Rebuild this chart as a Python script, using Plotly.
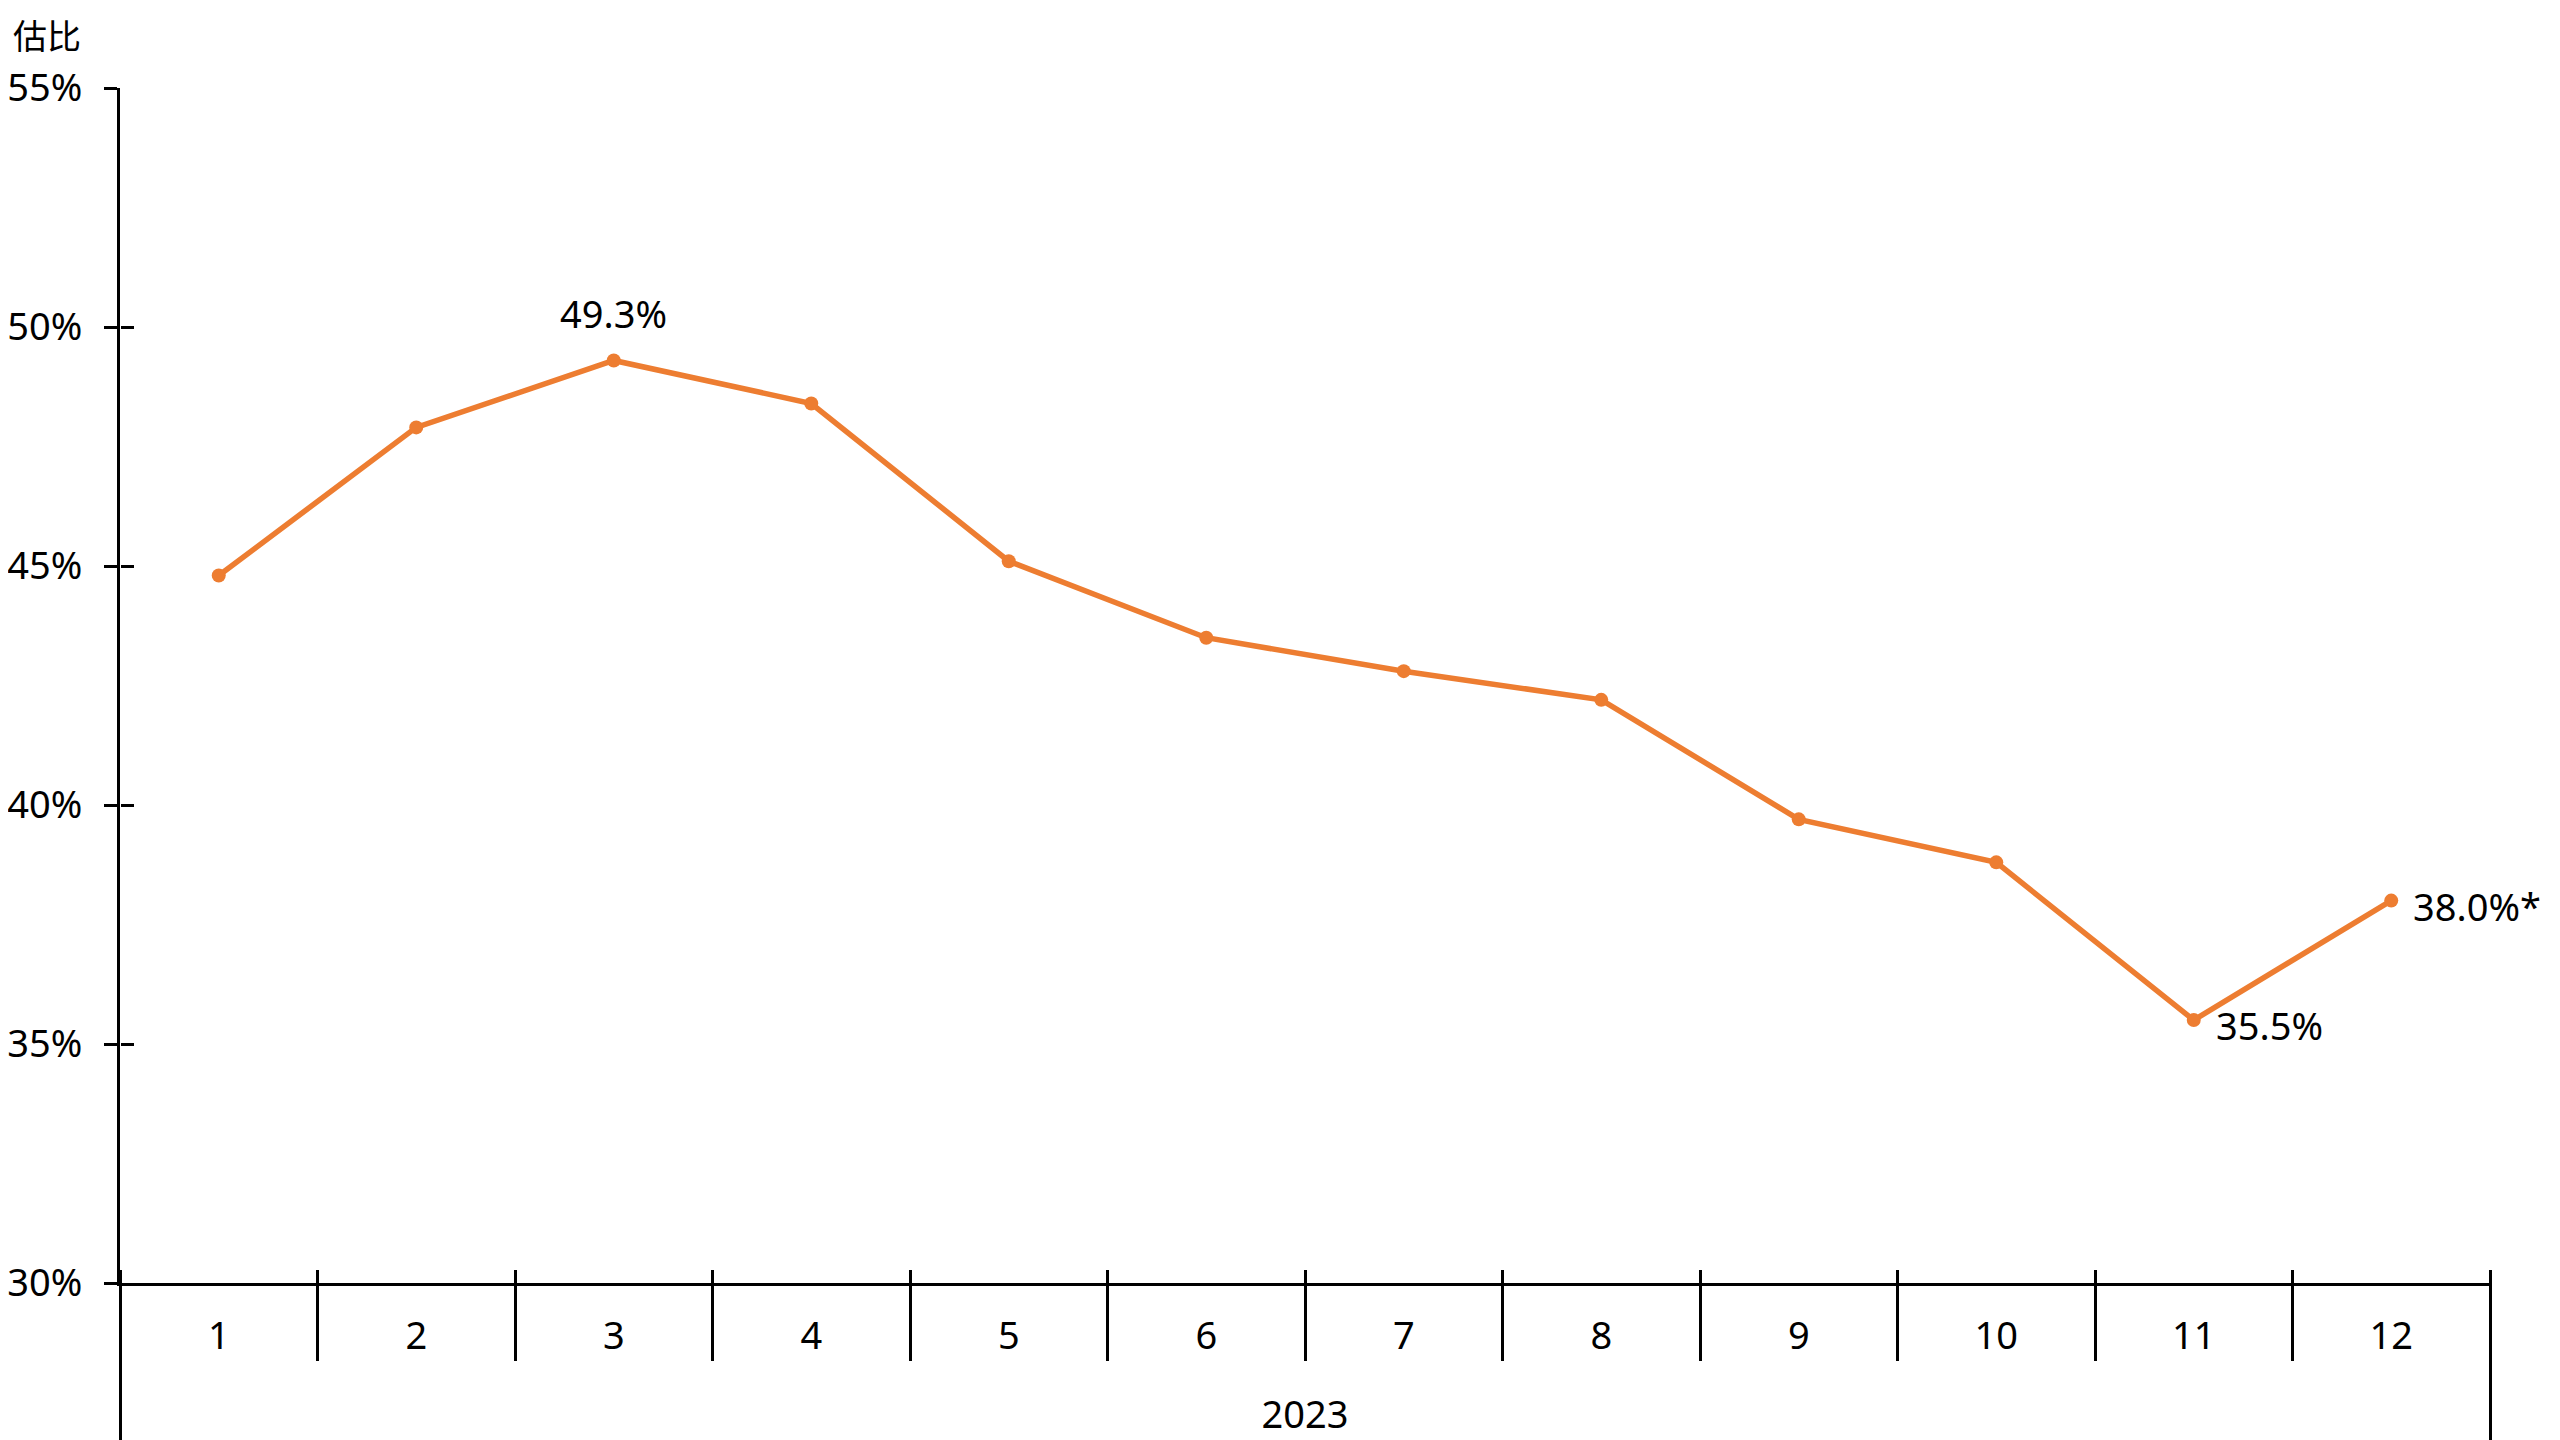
import plotly.graph_objects as go

year_label = "2023"
months = ["1", "2", "3", "4", "5", "6", "7", "8", "9", "10", "11", "12"]
share = [44.8, 47.9, 49.3, 48.4, 45.1, 43.5, 42.8, 42.2, 39.7, 38.8, 35.5, 38.0]
labelled = {2: "49.3%", 10: "35.5%", 11: "38.0%*"}
y_ticks = [30, 35, 40, 45, 50, 55]
y_tick_text = ["30%", "35%", "40%", "45%", "50%", "55%"]
y_title = "估比"

FONT = "Noto Sans, Noto Sans CJK SC, sans-serif"
ORANGE = "#ED7D31"
FS = 38
n = len(months)

fig = go.Figure()
fig.add_trace(go.Scatter(
    x=months, y=share,
    mode="lines+markers",
    line=dict(color=ORANGE, width=5.5),
    marker=dict(color=ORANGE, size=14),
    showlegend=False, cliponaxis=False,
))
# invisible helper traces carrying the overlay axes (boundary ticks / edge lines)
fig.add_trace(go.Scatter(
    x=months, y=share, xaxis="x2", yaxis="y2",
    mode="markers", marker=dict(opacity=0, size=1),
    hoverinfo="skip", showlegend=False,
))
fig.add_trace(go.Scatter(
    x=months, y=share, xaxis="x3", yaxis="y2",
    mode="markers", marker=dict(opacity=0, size=1),
    hoverinfo="skip", showlegend=False,
))

annots = []
for i, txt in labelled.items():
    if i == 2:
        a = dict(xanchor="center", yanchor="middle", xshift=0, yshift=47)
    else:
        a = dict(xanchor="left", yanchor="middle", xshift=20, yshift=-5)
    annots.append(dict(
        x=i, y=share[i], xref="x", yref="y", text=txt,
        showarrow=False, font=dict(family=FONT, size=FS, color="black"), **a,
    ))
annots.append(dict(
    text=y_title, xref="paper", yref="paper",
    x=-0.031, y=1.0435, xanchor="center", yanchor="middle",
    showarrow=False, font=dict(family=FONT, size=34, color="black"),
))

fig.update_layout(
    width=2560, height=1440,
    margin=dict(l=112, r=78, t=80, b=165, autoexpand=False),
    paper_bgcolor="white", plot_bgcolor="white",
    font=dict(family=FONT, size=FS, color="black"),
    xaxis=dict(
        type="category", range=[-0.5, n - 0.5], automargin=False,
        showline=True, linecolor="black", linewidth=3,
        ticks="", showgrid=False, zeroline=False,
        tickfont=dict(family=FONT, size=FS, color="black"),
        ticklabelstandoff=17,
        title=dict(text=year_label, standoff=43,
                   font=dict(family=FONT, size=FS, color="black")),
    ),
    xaxis2=dict(
        type="category", range=[-0.5, n - 0.5], overlaying="x",
        anchor="free", position=14 / 1195, side="bottom", automargin=False,
        showline=False, showgrid=False, zeroline=False,
        ticks="outside", tickson="boundaries", ticklen=91,
        tickwidth=3, tickcolor="black", showticklabels=False,
    ),
    xaxis3=dict(
        type="category", range=[-0.5, n - 0.5], overlaying="x",
        anchor="free", position=0, side="bottom", automargin=False,
        tickmode="array", tickvals=[-0.5, n - 0.5],
        showline=False, showgrid=False, zeroline=False,
        ticks="outside", ticklen=170,
        tickwidth=3, tickcolor="black", showticklabels=False,
    ),
    yaxis=dict(
        range=[30, 55], tickvals=y_ticks, ticktext=y_tick_text, automargin=False,
        showline=True, linecolor="black", linewidth=3,
        ticks="outside", ticklen=13, tickwidth=3, tickcolor="black",
        showgrid=False, zeroline=False, ticklabelstandoff=14,
        tickfont=dict(family=FONT, size=FS, color="black"),
    ),
    yaxis2=dict(
        range=[30, 55], tickvals=y_ticks, overlaying="y",
        anchor="free", position=0, side="left", automargin=False,
        ticks="inside", ticklen=13, tickwidth=3, tickcolor="black",
        showline=False, showgrid=False, zeroline=False,
        showticklabels=False,
    ),
    annotations=annots,
)

fig.write_html("out.html")
